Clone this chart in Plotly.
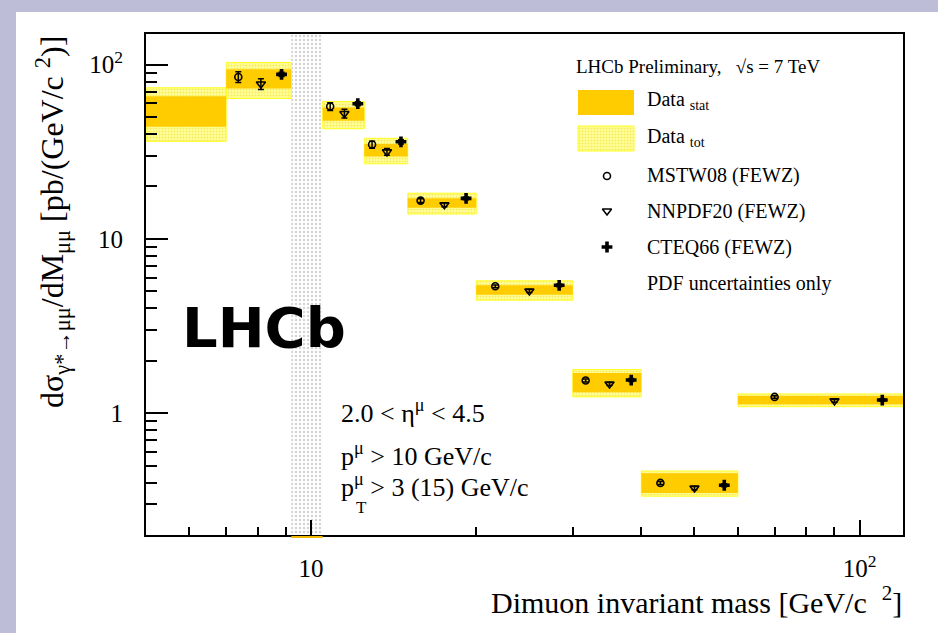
import plotly.graph_objects as go

# ---- Dimuon mass bins [GeV/c^2] and measured cross-section [pb/(GeV/c^2)] ----
bin_lo = [5.0, 7.0, 10.5, 12.5, 15.0, 20.0, 30.0, 40.0, 60.0]
bin_hi = [7.0, 9.2, 12.5, 15.0, 20.0, 30.0, 40.0, 60.0, 120.0]
data_val = [55.0, 83.5, 52.2, 32.4, 16.1, 5.10, 1.51, 0.400, 1.19]
data_stat = [11.0, 10.6, 4.6, 2.65, 1.0, 0.315, 0.19, 0.052, 0.065]
data_tot = [18.7, 19.5, 9.3, 5.4, 2.2, 0.65, 0.27, 0.066, 0.10]

# Upsilon region excluded from the measurement
upsilon_lo, upsilon_hi = 9.2, 10.5

# ---- FEWZ predictions (PDF uncertainties only), bins 2..9 ----
theory_bins = [1, 2, 3, 4, 5, 6, 7, 8]
mstw_val = [85.0, 57.5, 34.8, 16.6, 5.35, 1.54, 0.398, 1.24]
mstw_err = [6.0, 3.0, 1.6, 0.4, 0.10, 0.03, 0.008, 0.02]
nnpdf_val = [77.5, 52.5, 31.6, 15.7, 5.03, 1.47, 0.372, 1.177]
nnpdf_err = [5.5, 3.0, 1.4, 0.4, 0.10, 0.03, 0.008, 0.02]
cteq_val = [88.0, 59.7, 36.1, 17.1, 5.42, 1.55, 0.386, 1.19]
cteq_err = [2.5, 1.5, 1.0, 0.3, 0.10, 0.03, 0.008, 0.02]

# Axis ranges and ticks
x_range = [5.0, 120.0]
y_range = [0.2, 150.0]
x_major = [10, 100]
x_major_text = ["10", "10<sup>2</sup>"]
x_minor = [6, 7, 8, 9, 20, 30, 40, 50, 60, 70, 80, 90]
y_major = [1, 10, 100]
y_major_text = ["1", "10", "10<sup>2</sup>"]
y_minor = [0.2, 0.3, 0.4, 0.5, 0.6, 0.7, 0.8, 0.9,
           2, 3, 4, 5, 6, 7, 8, 9,
           20, 30, 40, 50, 60, 70, 80, 90]

STAT_COLOR = "#FFCC00"
TOT_BG = "#FFFF9C"
TOT_DOT = "#F0D820"
TOT_EDGE = "#FFFF20"
SERIF = "Liberation Serif"

W, H = 938, 633
L, R, T, B = 146, 35, 34, 98
PW, PH = W - L - R, H - T - B


def px(x):
    return (x - L) / PW


def py(y):
    return (H - B - y) / PH


def boxes(lo, hi, low, up):
    xs, ys = [], []
    for a, b, c, d in zip(lo, hi, low, up):
        xs += [a, b, b, a, a, None]
        ys += [c, c, d, d, c, None]
    return xs, ys


fig = go.Figure()

# Excluded Upsilon region (dotted grey band)
fig.add_trace(go.Scatter(
    x=[upsilon_lo, upsilon_hi, upsilon_hi, upsilon_lo, upsilon_lo],
    y=[y_range[0], y_range[0], y_range[1], y_range[1], y_range[0]],
    fill="toself", mode="lines", line=dict(width=0),
    fillpattern=dict(shape=".", bgcolor="white", fgcolor="#A8A8A8",
                     size=4, solidity=0.3),
    hoverinfo="skip", showlegend=False))

# Total uncertainty boxes
tx, ty = boxes(bin_lo, bin_hi,
               [v - e for v, e in zip(data_val, data_tot)],
               [v + e for v, e in zip(data_val, data_tot)])
fig.add_trace(go.Scatter(
    x=tx, y=ty, fill="toself", mode="lines",
    line=dict(color=TOT_EDGE, width=1),
    fillpattern=dict(shape=".", bgcolor=TOT_BG, fgcolor=TOT_DOT,
                     size=3, solidity=0.4),
    hoverinfo="skip", showlegend=False))

# Statistical uncertainty boxes
sx, sy = boxes(bin_lo, bin_hi,
               [v - e for v, e in zip(data_val, data_stat)],
               [v + e for v, e in zip(data_val, data_stat)])
fig.add_trace(go.Scatter(
    x=sx, y=sy, fill="toself", mode="lines",
    line=dict(width=0), fillcolor=STAT_COLOR,
    hoverinfo="skip", showlegend=False))


def bin_pos(frac):
    return [bin_lo[i] + frac * (bin_hi[i] - bin_lo[i]) for i in theory_bins]


err_style = dict(type="data", color="black", thickness=1.5, width=3)
fig.add_trace(go.Scatter(
    x=bin_pos(1 / 6), y=mstw_val, mode="markers",
    error_y=dict(array=mstw_err, **err_style),
    marker=dict(symbol="circle-open", size=7, color="black",
                line=dict(width=1.6)),
    showlegend=False))
fig.add_trace(go.Scatter(
    x=bin_pos(1 / 2), y=nnpdf_val, mode="markers",
    error_y=dict(array=nnpdf_err, **err_style),
    marker=dict(symbol="triangle-down-open", size=8, color="black",
                line=dict(width=1.6)),
    showlegend=False))
fig.add_trace(go.Scatter(
    x=bin_pos(5 / 6), y=cteq_val, mode="markers",
    error_y=dict(array=cteq_err, **err_style),
    marker=dict(symbol="cross", size=9, color="black", line=dict(width=0)),
    showlegend=False))

# ---- Legend, drawn on an overlay axis in plot-fraction units ----
lx0, lx1 = px(578), px(634)
fig.add_trace(go.Scatter(
    x=[lx0, lx1, lx1, lx0, lx0], y=[py(115), py(115), py(90), py(90), py(115)],
    fill="toself", mode="lines", line=dict(width=0), fillcolor=STAT_COLOR,
    xaxis="x2", yaxis="y2", hoverinfo="skip", showlegend=False))
fig.add_trace(go.Scatter(
    x=[lx0, lx1, lx1, lx0, lx0], y=[py(151), py(151), py(126), py(126), py(151)],
    fill="toself", mode="lines", line=dict(color=TOT_EDGE, width=1),
    fillpattern=dict(shape=".", bgcolor=TOT_BG, fgcolor=TOT_DOT,
                     size=3, solidity=0.4),
    xaxis="x2", yaxis="y2", hoverinfo="skip", showlegend=False))
fig.add_trace(go.Scatter(
    x=[px(607)], y=[py(176)], mode="markers", xaxis="x2", yaxis="y2",
    marker=dict(symbol="circle-open", size=7, color="black",
                line=dict(width=1.6)), showlegend=False))
fig.add_trace(go.Scatter(
    x=[px(607)], y=[py(211)], mode="markers", xaxis="x2", yaxis="y2",
    marker=dict(symbol="triangle-down-open", size=8, color="black",
                line=dict(width=1.6)), showlegend=False))
fig.add_trace(go.Scatter(
    x=[px(607)], y=[py(247)], mode="markers", xaxis="x2", yaxis="y2",
    marker=dict(symbol="cross", size=9, color="black", line=dict(width=0)),
    showlegend=False))

annotations = []


def text(x, y, s, size=20, xanchor="left", yanchor="middle", **kw):
    annotations.append(dict(
        x=px(x), y=py(y), xref="paper", yref="paper", text=s,
        showarrow=False, xanchor=xanchor, yanchor=yanchor,
        font=dict(family=kw.pop("family", SERIF), size=size,
                  color="black"), **kw))


text(574, 66, "LHCb Preliminary,   √s = 7 TeV", 19)
text(645, 101, "Data <sub>stat</sub>", 20)
text(645, 137, "Data <sub>tot</sub>", 20)
text(645, 175, "MSTW08 (FEWZ)", 20)
text(645, 211, "NNPDF20 (FEWZ)", 20)
text(645, 247, "CTEQ66 (FEWZ)", 20)
text(645, 283, "PDF uncertainties only", 20)

# Selection
text(339, 411, "2.0 &lt; η<sup>μ</sup> &lt; 4.5", 26)
text(339, 454, "p<sup>μ</sup> &gt; 10 GeV/c", 26)
text(339, 485, "p<sup>μ</sup> &gt; 3 (15) GeV/c", 26)
text(361, 507, "T", 17, xanchor="center")

# Experiment label
text(180, 327, "<b>LHCb</b>", 56, family="DejaVu Sans")

# Axis titles
text(52, 34, "dσ<sub>γ*→μμ</sub>/dM<sub>μμ</sub> [pb/(GeV/c <sup>2</sup>)]",
     32, xanchor="center", yanchor="top", textangle=-90)
text(904, 600, "Dimuon invariant mass [GeV/c  <sup>2</sup>]", 30,
     xanchor="right")

shapes = [
    # white page over the lavender frame
    dict(type="rect", xref="paper", yref="paper", layer="below",
         x0=px(16), x1=px(W + 10), y0=py(H + 10), y1=py(12),
         fillcolor="white", line=dict(width=0)),
    # Upsilon bin sits at the bottom of the scale
    dict(type="line", xref="x", yref="paper",
         x0=upsilon_lo, x1=upsilon_hi, y0=-0.004, y1=-0.004,
         line=dict(color="#F0B800", width=2)),
]

axis_common = dict(
    showgrid=False, zeroline=False, showline=True, linecolor="black",
    linewidth=2, mirror=True, ticks="inside", tickcolor="black",
    tickwidth=2, tickfont=dict(family=SERIF, size=25, color="black"),
)

fig.update_layout(
    width=W, height=H,
    margin=dict(l=L, r=R, t=T, b=B),
    paper_bgcolor="#BDBDD8", plot_bgcolor="white",
    xaxis=dict(type="log", range=[0.69897, 2.0791812],
               tickmode="array", tickvals=x_major, ticktext=x_major_text,
               ticklen=15, ticklabelstandoff=10,
               minor=dict(tickmode="array", tickvals=x_minor, ticks="inside",
                          ticklen=8, tickwidth=2, tickcolor="black"),
               **axis_common),
    yaxis=dict(type="log", range=[-0.69897, 2.1760913],
               tickmode="array", tickvals=y_major, ticktext=y_major_text,
               ticklen=22, ticklabelstandoff=16,
               minor=dict(tickmode="array", tickvals=y_minor, ticks="inside",
                          ticklen=11, tickwidth=2, tickcolor="black"),
               **axis_common),
    xaxis2=dict(overlaying="x", range=[0, 1], visible=False),
    yaxis2=dict(overlaying="y", range=[0, 1], visible=False),
    annotations=annotations,
    shapes=shapes,
    showlegend=False,
)

fig.write_html("out.html")
